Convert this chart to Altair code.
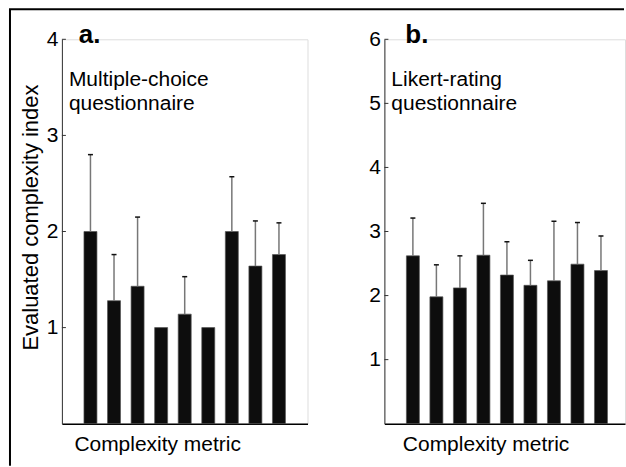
import altair as alt
import pandas as pd

FONT = "Liberation Sans"

# ---- data ----
metric_pos = [1, 2, 3, 4, 5, 6, 7, 8, 9]
mc_mean = [2.00, 1.28, 1.43, 1.00, 1.14, 1.00, 2.00, 1.64, 1.76]
mc_sd = [0.80, 0.48, 0.72, 0.00, 0.39, 0.00, 0.57, 0.47, 0.33]
lk_mean = [2.62, 1.98, 2.12, 2.63, 2.32, 2.16, 2.23, 2.49, 2.39]
lk_sd = [0.59, 0.50, 0.50, 0.81, 0.52, 0.39, 0.93, 0.65, 0.54]
mc_ticks = [1, 2, 3, 4]
lk_ticks = [1, 2, 3, 4, 5, 6]

mc_df = pd.DataFrame({"pos": metric_pos, "mean": mc_mean, "sd": mc_sd})
mc_df["upper"] = mc_df["mean"] + mc_df["sd"]
lk_df = pd.DataFrame({"pos": metric_pos, "mean": lk_mean, "sd": lk_sd})
lk_df["upper"] = lk_df["mean"] + lk_df["sd"]

one = pd.DataFrame({"k": [0]})


def panel(df, ticks, ymax, xmax, width, letter, line1, line2, ytitle, xtitle_x, border):
    xs = alt.Scale(domain=[0, xmax], nice=False, zero=True)
    ys = alt.Scale(domain=[0, ymax], nice=False)
    x_axis = alt.Axis(
        title="Complexity metric", labels=False, ticks=False, grid=False,
        domainColor="black", domainWidth=1.5,
        titleX=xtitle_x, titleY=27, titleAlign="left", titleBaseline="alphabetic",
        titleFontSize=21, titleFontWeight="normal", titleFont=FONT, titleColor="black",
    )
    yargs = dict(
        values=ticks, format="d", ticks=False, grid=False, domainColor="#333", domainWidth=1,
        labelFontSize=21, labelPadding=4, labelFont=FONT, labelColor="black",
        labelFlush=False, labelOverlap=False,
    )
    if ytitle:
        yargs.update(
            title=ytitle, titleAngle=270, titleX=-31, titleY=178, titleAlign="center",
            titleBaseline="middle", titleFontSize=22, titleFontWeight="normal",
            titleFont=FONT, titleColor="black",
        )
    else:
        yargs.update(title=None)
    y_axis = alt.Axis(**yargs)

    bars = alt.Chart(df).mark_bar(size=13, color="#0d0d0d", stroke="#555", strokeWidth=0.7).encode(
        x=alt.X("pos:Q", scale=xs, axis=x_axis),
        y=alt.Y("mean:Q", scale=ys, axis=y_axis),
    )
    errdf = df[df["sd"] > 0]
    err = alt.Chart(errdf).mark_rule(color="#777", strokeWidth=1.5).encode(
        x=alt.X("pos:Q", scale=xs),
        y=alt.Y("mean:Q", scale=ys),
        y2="upper:Q",
    )
    cap = alt.Chart(errdf).mark_rule(color="#111", strokeWidth=1.5, xOffset=-2.5, x2Offset=2.5).encode(
        x=alt.X("pos:Q", scale=xs),
        x2="pos:Q",
        y=alt.Y("upper:Q", scale=ys),
    )
    tk = alt.Chart(pd.DataFrame({"t": ticks})).mark_rule(color="#333", strokeWidth=1).encode(
        y=alt.Y("t:Q", scale=ys), x=alt.value(0), x2=alt.value(4)
    )
    txt_letter = alt.Chart(one).mark_text(
        text=letter, font=FONT, fontSize=26, fontWeight="bold", align="left", baseline="alphabetic", color="black"
    ).encode(x=alt.value(17 if letter == "a." else 21), y=alt.value(4))
    t1 = alt.Chart(one).mark_text(
        text=line1, font=FONT, fontSize=21, align="left", baseline="alphabetic", color="black"
    ).encode(x=alt.value(7), y=alt.value(47))
    t2 = alt.Chart(one).mark_text(
        text=line2, font=FONT, fontSize=21, align="left", baseline="alphabetic", color="black"
    ).encode(x=alt.value(7), y=alt.value(71))
    layers = [bars, err, cap, tk, txt_letter, t1, t2]
    if border:
        bl = alt.Chart(one).mark_rule(color="black", strokeWidth=2).encode(
            x=alt.value(-52), x2=alt.value(-52), y=alt.value(-30), y2=alt.value(427)
        )
        bt = alt.Chart(one).mark_rule(color="black", strokeWidth=2).encode(
            x=alt.value(-53), x2=alt.value(563), y=alt.value(-30), y2=alt.value(-30)
        )
        layers += [bl, bt]
    return alt.layer(*layers).properties(width=width, height=385)


left = panel(mc_df, mc_ticks, 4, 10, 246, "a.", "Multiple-choice", "questionnaire",
             "Evaluated complexity index", 12, True)
right = panel(lk_df, lk_ticks, 6, 9.81, 241, "b.", "Likert-rating", "questionnaire",
              None, 18, False)

chart = alt.hconcat(left, right, spacing=77, bounds="flush").properties(
    padding={"left": 7, "top": 7, "right": 0, "bottom": 0}
).configure_view(stroke=None).configure(font=FONT, background="white")

chart.save("out.html", embed_options={"renderer": "svg", "actions": False})
